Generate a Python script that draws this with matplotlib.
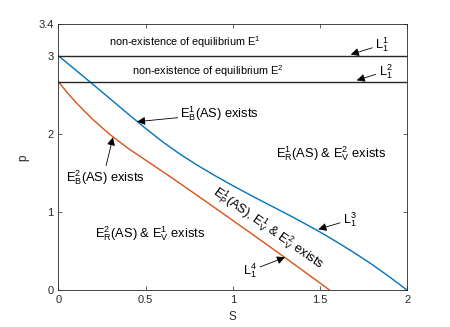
import matplotlib.pyplot as plt

plt.rcParams['font.family'] = ['Liberation Sans', 'DejaVu Sans']
plt.rcParams['mathtext.fontset'] = 'custom'
plt.rcParams['mathtext.rm'] = 'Liberation Sans'
plt.rcParams['mathtext.it'] = 'Liberation Sans:italic'

# boundary curves
s_L3 = [0, 0.1, 0.2, 0.3, 0.4, 0.5, 0.6, 0.7, 0.8, 0.9, 1.0,
        1.1, 1.2, 1.3, 1.4, 1.5, 1.6, 1.7, 1.8, 1.9, 2.0]
p_L3 = [3.0, 2.815, 2.63, 2.443, 2.255, 2.07, 1.895, 1.737, 1.595, 1.463, 1.338,
        1.218, 1.102, 0.987, 0.868, 0.745, 0.613, 0.474, 0.327, 0.168, 0.0]

s_L4 = [0, 0.05, 0.1, 0.15, 0.2, 0.25, 0.3, 0.4, 0.5, 0.6, 0.7, 0.8, 0.9, 1.0,
        1.1, 1.2, 1.3, 1.4, 1.5, 1.556]
p_L4 = [2.67, 2.53, 2.405, 2.29, 2.18, 2.08, 1.985, 1.815, 1.665, 1.515, 1.362,
        1.207, 1.05, 0.893, 0.735, 0.576, 0.416, 0.255, 0.092, 0.0]

p_L1 = 3.0      # L_1^1
p_L2 = 8 / 3    # L_1^2

s_ticks = [0, 0.5, 1, 1.5, 2]
p_ticks = [0, 1, 2, 3, 3.4]

fig = plt.figure(figsize=(4.5, 3.27), dpi=100)
ax = fig.add_axes([0.1296, 0.1122, 0.7756, 0.8132])

ax.plot(s_L3, p_L3, color='#0072BD', lw=1.0)
ax.plot(s_L4, p_L4, color='#D95319', lw=1.0)
ax.axhline(p_L1, color='#262626', lw=1.0)
ax.axhline(p_L2, color='#262626', lw=1.0)

ax.set_xlim(0, 2)
ax.set_ylim(0, 3.4)
ax.set_xticks(s_ticks)
ax.set_xticklabels(['0', '0.5', '1', '1.5', '2'])
ax.set_yticks(p_ticks)
ax.set_yticklabels(['0', '1', '2', '3', '3.4'])
ax.tick_params(direction='in', length=3, width=0.5, labelsize=8,
               colors='#262626', top=True, right=True)
for sp in ax.spines.values():
    sp.set_linewidth(0.6)
    sp.set_color('#262626')
ax.set_xlabel('S', fontsize=8.5, color='#262626', labelpad=4)
ax.set_ylabel('p', fontsize=8.5, color='#262626', labelpad=6)

fs = 9.3
arw = dict(arrowstyle='-|>', color='black', lw=0.6, mutation_scale=12,
           shrinkA=0, shrinkB=0)

ax.text(0.727, 3.17, r'non-existence of equilibrium $\mathregular{E^1}$',
        fontsize=7.8, ha='center', va='center')
ax.text(0.855, 2.80, r'non-existence of equilibrium $\mathregular{E^2}$',
        fontsize=7.8, ha='center', va='center')

ax.annotate(r'$\mathregular{L_1^1}$', xy=(1.676, 3.015), xytext=(1.815, 3.14),
            fontsize=fs, ha='left', va='center', arrowprops=arw)
ax.annotate(r'$\mathregular{L_1^2}$', xy=(1.71, 2.685), xytext=(1.835, 2.80),
            fontsize=fs, ha='left', va='center', arrowprops=arw)

ax.annotate(r'$\mathregular{E_B^1}$(AS) exists', xy=(0.451, 2.156),
            xytext=(0.70, 2.26), fontsize=fs, ha='left', va='center',
            arrowprops=arw)
ax.annotate(r'$\mathregular{E_B^2}$(AS) exists', xy=(0.313, 1.957),
            xytext=(0.27, 1.44), fontsize=fs, ha='center', va='center',
            arrowprops=dict(arw, relpos=(0.5, 1.0)))

ax.text(1.25, 1.75, r'$\mathregular{E_R^1}$(AS) & $\mathregular{E_V^2}$ exists',
        fontsize=fs, ha='left', va='center')
ax.text(0.21, 0.73, r'$\mathregular{E_R^2}$(AS) & $\mathregular{E_V^1}$ exists',
        fontsize=fs, ha='left', va='center')

ax.text(1.205, 0.80,
        r'$\mathregular{E_P^1}$(AS), $\mathregular{E_V^1}$ & $\mathregular{E_V^2}$ exists',
        fontsize=fs, ha='center', va='center', rotation=-35,
        rotation_mode='anchor')

ax.annotate(r'$\mathregular{L_1^3}$', xy=(1.49, 0.78), xytext=(1.63, 0.90),
            fontsize=fs, ha='left', va='center', arrowprops=arw)
ax.annotate(r'$\mathregular{L_1^4}$', xy=(1.299, 0.422), xytext=(1.06, 0.25),
            fontsize=fs, ha='left', va='center', arrowprops=arw)

fig.savefig('out.png', dpi=100, facecolor='white')
